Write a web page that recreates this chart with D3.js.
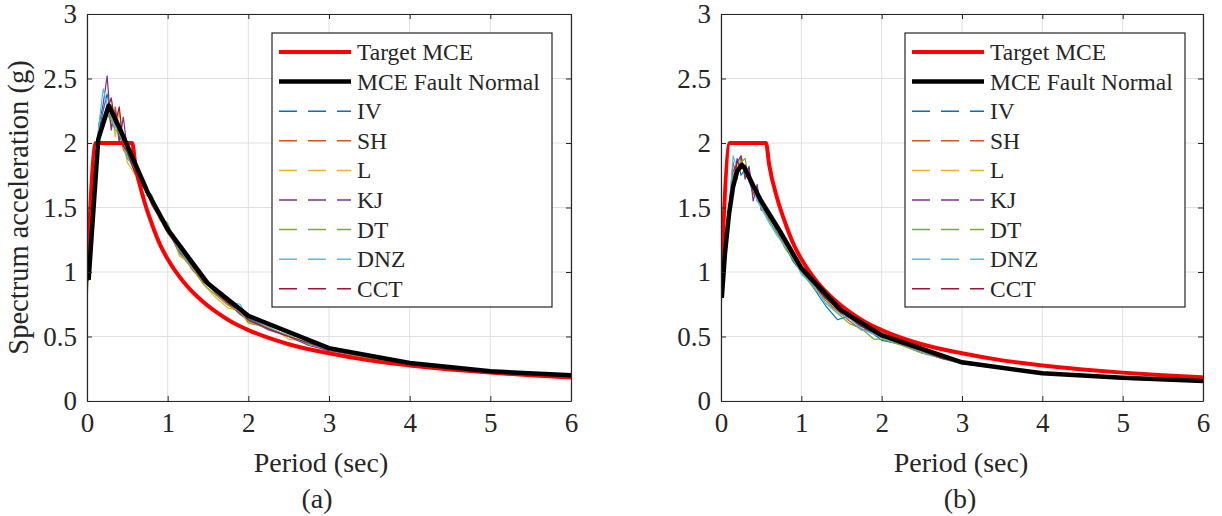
<!DOCTYPE html>
<html><head><meta charset="utf-8">
<script src="https://cdn.jsdelivr.net/npm/d3@7"></script>
<style>body{margin:0;background:#fff}svg{display:block}text{font-family:"Liberation Serif","Times New Roman",serif;fill:#262626}</style>
</head><body><svg id="c" width="1222" height="516"></svg>
<script>
// ---------- DATA ----------
const xTicks = [0,1,2,3,4,5,6];
const yTicks = [0,0.5,1,1.5,2,2.5,3];
const yTickLabels = ["0","0.5","1","1.5","2","2.5","3"];
const seriesNames = ["IV","SH","L","KJ","DT","DNZ","CCT"];
const seriesColors = ["#0072BD","#D95319","#EDB120","#7E2F8E","#77AC30","#4DBEEE","#A2142F"];
const panelLabels = ["(a)","(b)"];

// Target MCE spectrum (same in both panels)
const targetT  = [0,0.11,0.56,0.6,0.7,0.8,0.9,1.0,1.2,1.4,1.6,1.8,2.0,2.5,3.0,3.5,4.0,4.5,5.0,5.5,6.0];
const targetSa = [0.93,2.0,2.0,1.83,1.57,1.38,1.22,1.1,0.92,0.79,0.69,0.61,0.55,0.44,0.37,0.315,0.275,0.245,0.22,0.2,0.183];

// MCE Fault Normal (a)
const fnT_a  = [0.02,0.14,0.27,0.4,0.5,0.75,1.0,1.5,2.0,3.0,4.0,5.0,6.0];
const fnSa_a = [0.94,2.03,2.29,2.12,1.98,1.62,1.33,0.91,0.66,0.41,0.295,0.23,0.2];
// MCE Fault Normal (b)
const fnT_b  = [0.01,0.05,0.1,0.15,0.2,0.26,0.3,0.4,0.5,0.75,1.0,1.5,2.0,3.0,4.0,5.0,6.0];
const fnSa_b = [0.8,1.15,1.45,1.66,1.78,1.83,1.8,1.67,1.55,1.3,1.03,0.7,0.51,0.30,0.215,0.18,0.155];

// record periods
const recT = [0,0.05,0.1,0.15,0.2,0.25,0.3,0.35,0.4,0.45,0.5,0.6,0.7,0.8,0.9,1.0,1.15,1.3,1.45,1.6,1.75,1.9,2.0,2.25,2.5,2.75,3.0,3.5,4.0,4.5,5.0,5.5,6.0];

// records (a)
const IV_a  = [0.92,1.4,1.8,2.1,2.25,2.38,2.2,2.15,2.05,2.0,1.92,1.8,1.66,1.55,1.45,1.35,1.16,1.05,0.93,0.85,0.76,0.7,0.64,0.57,0.5,0.44,0.4,0.33,0.3,0.24,0.215,0.2,0.19];
const SH_a  = [0.9,1.35,1.75,2.0,2.2,2.3,2.12,2.28,2.1,1.95,1.9,1.78,1.7,1.52,1.42,1.3,1.18,1.02,0.92,0.84,0.75,0.68,0.62,0.56,0.5,0.45,0.4,0.34,0.29,0.25,0.225,0.205,0.19];
const L_a   = [0.88,1.3,1.72,2.08,2.12,2.2,2.3,2.05,2.25,2.0,1.85,1.75,1.6,1.58,1.4,1.36,1.12,1.07,0.9,0.8,0.72,0.7,0.6,0.58,0.48,0.46,0.38,0.33,0.3,0.26,0.22,0.21,0.2];
const KJ_a  = [0.92,1.42,1.82,2.15,2.3,2.52,2.1,2.25,2.0,2.2,1.95,1.8,1.72,1.55,1.47,1.32,1.15,1.06,0.94,0.83,0.76,0.67,0.63,0.55,0.5,0.43,0.39,0.34,0.29,0.25,0.22,0.21,0.19];
const DT_a  = [0.78,1.3,1.7,2.02,2.15,2.22,2.18,2.1,2.08,1.98,1.88,1.8,1.65,1.6,1.43,1.38,1.14,1.03,0.9,0.82,0.74,0.69,0.61,0.56,0.51,0.44,0.41,0.33,0.3,0.25,0.22,0.21,0.2];
const DNZ_a = [0.9,1.38,1.8,2.15,2.42,2.3,2.2,2.12,2.1,2.0,1.9,1.76,1.68,1.54,1.46,1.33,1.17,1.04,0.96,0.87,0.77,0.75,0.63,0.57,0.5,0.45,0.4,0.34,0.3,0.26,0.22,0.21,0.2];
const CCT_a = [0.9,1.36,1.78,2.05,2.2,2.25,2.35,2.15,2.28,1.98,1.93,1.76,1.68,1.56,1.44,1.34,1.18,1.05,0.92,0.85,0.76,0.7,0.63,0.56,0.5,0.45,0.4,0.34,0.29,0.26,0.22,0.21,0.2];

// records (b)
const IV_b  = [0.78,1.12,1.42,1.7,1.88,1.75,1.8,1.7,1.62,1.58,1.5,1.4,1.3,1.2,1.08,1.0,0.88,0.74,0.63,0.66,0.56,0.52,0.47,0.44,0.38,0.34,0.29,0.26,0.21,0.2,0.18,0.17,0.155];
const SH_b  = [0.8,1.15,1.5,1.85,1.72,1.9,1.75,1.72,1.6,1.65,1.52,1.42,1.33,1.2,1.1,1.0,0.9,0.78,0.7,0.62,0.55,0.56,0.5,0.46,0.38,0.33,0.3,0.25,0.21,0.19,0.17,0.16,0.15];
const L_b   = [0.79,1.14,1.45,1.72,1.82,1.86,1.78,1.8,1.65,1.6,1.56,1.44,1.36,1.22,1.14,1.02,0.94,0.8,0.72,0.65,0.6,0.53,0.5,0.45,0.39,0.34,0.3,0.26,0.22,0.2,0.18,0.165,0.155];
const KJ_b  = [0.8,1.16,1.48,1.78,1.85,1.9,1.72,1.82,1.55,1.68,1.48,1.45,1.3,1.25,1.1,1.02,0.9,0.8,0.72,0.64,0.58,0.52,0.49,0.44,0.38,0.33,0.29,0.25,0.21,0.2,0.18,0.165,0.155];
const DT_b  = [0.72,1.1,1.45,1.75,1.8,1.85,1.88,1.7,1.7,1.55,1.52,1.4,1.3,1.18,1.1,1.0,0.88,0.78,0.68,0.6,0.56,0.48,0.48,0.43,0.37,0.33,0.29,0.25,0.21,0.19,0.18,0.165,0.155];
const DNZ_b = [0.78,1.13,1.48,1.9,1.8,1.84,1.8,1.72,1.66,1.55,1.5,1.38,1.28,1.2,1.12,0.98,0.9,0.76,0.68,0.64,0.56,0.52,0.49,0.44,0.38,0.33,0.29,0.25,0.21,0.2,0.18,0.165,0.155];
const CCT_b = [0.78,1.12,1.44,1.65,1.86,1.8,1.83,1.74,1.68,1.62,1.53,1.42,1.33,1.22,1.12,1.01,0.91,0.8,0.71,0.65,0.58,0.53,0.5,0.44,0.39,0.33,0.3,0.25,0.21,0.2,0.18,0.165,0.155];

// ---------- DRAW ----------
const svg = d3.select("#c");
const panels = [
  {x0:87, x1:571, y0:14, y1:401, fnT:fnT_a, fnSa:fnSa_a, recs:[IV_a,SH_a,L_a,KJ_a,DT_a,DNZ_a,CCT_a], label:panelLabels[0], labelX:321, subX:317, ylabel:true, legX:272},
  {x0:721, x1:1203, y0:14, y1:401, fnT:fnT_b, fnSa:fnSa_b, recs:[IV_b,SH_b,L_b,KJ_b,DT_b,DNZ_b,CCT_b], label:panelLabels[1], labelX:961, subX:960, ylabel:false, legX:905}
];
const axisColor = "#262626";

panels.forEach((p,pi)=>{
  const x = d3.scaleLinear().domain([0,6]).range([p.x0,p.x1]);
  const y = d3.scaleLinear().domain([0,3]).range([p.y1,p.y0]);
  const g = svg.append("g");
  // grid
  g.append("g").selectAll("line").data(xTicks).join("line")
    .attr("x1",d=>x(d)).attr("x2",d=>x(d)).attr("y1",p.y0).attr("y2",p.y1)
    .attr("stroke","#e0e0e0").attr("stroke-width",1);
  g.append("g").selectAll("line").data(yTicks).join("line")
    .attr("y1",d=>y(d)).attr("y2",d=>y(d)).attr("x1",p.x0).attr("x2",p.x1)
    .attr("stroke","#e0e0e0").attr("stroke-width",1);

  const clipId = "clip"+pi;
  svg.append("clipPath").attr("id",clipId).append("rect")
    .attr("x",p.x0).attr("y",p.y0).attr("width",p.x1-p.x0).attr("height",p.y1-p.y0);
  const plot = g.append("g").attr("clip-path",`url(#${clipId})`);
  const line = d3.line().x(d=>x(d[0])).y(d=>y(d[1]));

  // records
  p.recs.forEach((arr,i)=>{
    plot.append("path").datum(recT.map((t,k)=>[t,arr[k]]))
      .attr("d",line).attr("fill","none").attr("stroke",seriesColors[i])
      .attr("stroke-width",1.2).attr("stroke-linejoin","round");
  });
  // target
  plot.append("path").datum(targetT.map((t,k)=>[t,targetSa[k]]))
    .attr("d",d3.line().x(d=>x(d[0])).y(d=>y(d[1])).curve(d3.curveMonotoneX))
    .attr("fill","none").attr("stroke","#FF0000").attr("stroke-width",4);
  // fault normal
  plot.append("path").datum(p.fnT.map((t,k)=>[t,p.fnSa[k]]))
    .attr("d",line).attr("fill","none").attr("stroke","#000").attr("stroke-width",4.5)
    .attr("stroke-linejoin","round");

  // axes (MATLAB style box, inward ticks)
  const ax = g.append("g");
  const bottom = ax.append("g").attr("transform",`translate(0,${p.y1})`)
    .call(d3.axisBottom(x).tickValues(xTicks).tickSizeInner(-5).tickSizeOuter(0).tickPadding(13).tickFormat(d3.format("d")));
  const top = ax.append("g").attr("transform",`translate(0,${p.y0})`)
    .call(d3.axisTop(x).tickValues(xTicks).tickSizeInner(-5).tickSizeOuter(0).tickFormat(""));
  const left = ax.append("g").attr("transform",`translate(${p.x0},0)`)
    .call(d3.axisLeft(y).tickValues(yTicks).tickSizeInner(-5).tickSizeOuter(0).tickPadding(10).tickFormat((d,i)=>yTickLabels[i]));
  const right = ax.append("g").attr("transform",`translate(${p.x1},0)`)
    .call(d3.axisRight(y).tickValues(yTicks).tickSizeInner(-5).tickSizeOuter(0).tickFormat(""));
  [bottom,top,left,right].forEach(a=>{
    a.select(".domain").attr("stroke",axisColor).attr("stroke-width",1.2);
    a.selectAll(".tick line").attr("stroke",axisColor).attr("stroke-width",1);
    a.selectAll(".tick text").attr("fill",axisColor).style("font-family","'Liberation Serif',serif").style("font-size","27px");
  });
  bottom.selectAll(".tick text").attr("dy","0.66em");

  // labels
  svg.append("text").attr("x",p.labelX).attr("y",472).attr("text-anchor","middle")
    .style("font-size","28px").text("Period (sec)");
  svg.append("text").attr("x",p.subX).attr("y",508).attr("text-anchor","middle")
    .style("font-size","28px").text(p.label);
  if(p.ylabel){
    svg.append("text").attr("transform",`translate(28,${(p.y0+p.y1)/2}) rotate(-90)`)
      .attr("text-anchor","middle").style("font-size","28.5px").text("Spectrum acceleration (g)");
  }

  // legend
  const lx = p.legX, ly = 33, lw = 280, lh = 274;
  const leg = svg.append("g");
  leg.append("rect").attr("x",lx).attr("y",ly).attr("width",lw).attr("height",lh)
    .attr("fill","#fff").attr("stroke",axisColor).attr("stroke-width",1.2);
  const items = [{name:"Target MCE",color:"#FF0000",w:4,dash:null},{name:"MCE Fault Normal",color:"#000",w:4.5,dash:null}]
    .concat(seriesNames.map((n,i)=>({name:n,color:seriesColors[i],w:1.5,dash:"18,11"})));
  items.forEach((it,i)=>{
    const cy = 52 + i*29.6;
    leg.append("line").attr("x1",lx+7).attr("x2",lx+79).attr("y1",cy).attr("y2",cy)
      .attr("stroke",it.color).attr("stroke-width",it.w).attr("stroke-dasharray",it.dash);
    leg.append("text").attr("x",lx+85).attr("y",cy).attr("dy","0.34em")
      .style("font-size","23.5px").attr("fill","#000").text(it.name);
  });
});
</script></body></html>
